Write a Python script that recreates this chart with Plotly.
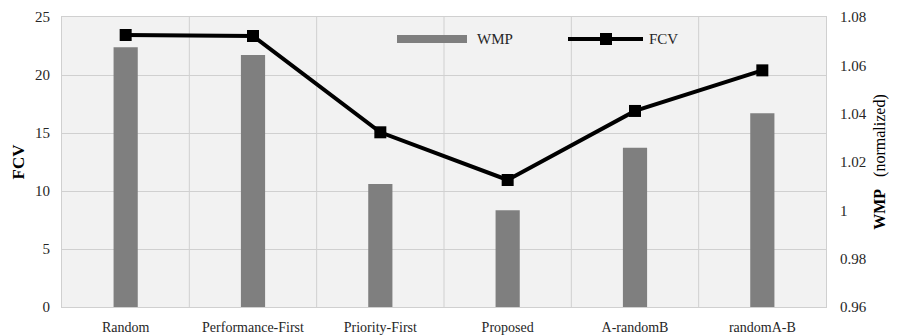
import plotly.graph_objects as go

categories = ["Random", "Performance-First", "Priority-First", "Proposed", "A-randomB", "randomA-B"]
wmp = [1.0675, 1.0643, 1.0109, 1.0, 1.0259, 1.0402]
fcv = [23.45, 23.36, 15.06, 10.95, 16.9, 20.4]
fcv_ticks = [0, 5, 10, 15, 20, 25]
wmp_ticks = [0.96, 0.98, 1.0, 1.02, 1.04, 1.06, 1.08]
wmp_tick_labels = ["0.96", "0.98", "1", "1.02", "1.04", "1.06", "1.08"]

font = "Liberation Serif"
grid = "#d0d0d0"
tick_col = "#262626"

fig = go.Figure()
fig.add_trace(go.Bar(x=categories, y=[v - 0.96 for v in wmp], base=0.96, yaxis="y2",
                     marker=dict(color="#7f7f7f", line=dict(width=0)), width=0.19, name="WMP",
                     showlegend=False))
fig.add_trace(go.Scatter(x=categories, y=fcv, mode="lines+markers", name="FCV",
                         line=dict(color="black", width=4),
                         marker=dict(symbol="square", size=12, color="black"), showlegend=False))

# page body has an 8px margin: figure occupies 8..902 x 8..335
fig.update_layout(
    width=894, height=327,
    margin=dict(l=54, r=76, t=9, b=28, autoexpand=False),
    paper_bgcolor="white", plot_bgcolor="#f2f2f2",
    font=dict(family=font, size=14, color=tick_col),
    xaxis=dict(showgrid=False, tickfont=dict(family=font, size=14, color=tick_col),
               ticks="outside", ticklen=7, tickcolor="rgba(0,0,0,0)",
               showline=True, linecolor=grid, linewidth=1, mirror=True,
               zeroline=False, automargin=False),
    yaxis=dict(range=[0, 25], tickvals=fcv_ticks, showgrid=True, gridcolor=grid, gridwidth=1,
               showline=True, linecolor=grid, linewidth=1, mirror=True,
               ticks="outside", ticklen=8, tickcolor="rgba(0,0,0,0)",
               zeroline=False, tickfont=dict(family=font, size=15, color=tick_col),
               automargin=False,
               title=dict(text="<b>FCV</b>", font=dict(family=font, size=17, color="black"),
                          standoff=6)),
    yaxis2=dict(range=[0.96, 1.08], tickvals=wmp_ticks, ticktext=wmp_tick_labels,
                overlaying="y", side="right", showgrid=False, zeroline=False,
                ticks="outside", ticklen=10, tickcolor="rgba(0,0,0,0)",
                tickfont=dict(family=font, size=15, color=tick_col), automargin=False,
                title=dict(text="<b>WMP</b>   (normalized)",
                           font=dict(family=font, size=16, color="black"), standoff=8)),
    showlegend=False,
)

# vertical grid lines at category boundaries
for i in range(1, len(categories)):
    fig.add_shape(type="line", xref="x", yref="paper", x0=i - 0.5, x1=i - 0.5, y0=0, y1=1,
                  line=dict(color=grid, width=1), layer="below")

# manual legend
W, H = 764, 290
fig.add_shape(type="rect", xref="paper", yref="paper", x0=(397 - 62) / W, x1=(467 - 62) / W,
              y0=(307 - 43) / H, y1=(307 - 35) / H, fillcolor="#7f7f7f", line=dict(width=0))
fig.add_annotation(xref="paper", yref="paper", x=(475 - 62) / W, y=(307 - 39) / H,
                   text="WMP", showarrow=False, xanchor="left", yanchor="middle",
                   font=dict(family=font, size=15, color=tick_col))
fig.add_shape(type="line", xref="paper", yref="paper", x0=(568 - 62) / W, x1=(643 - 62) / W,
              y0=(307 - 39) / H, y1=(307 - 39) / H, line=dict(color="black", width=4))
fig.add_shape(type="rect", xref="paper", yref="paper", x0=(600 - 62) / W, x1=(612 - 62) / W,
              y0=(307 - 45) / H, y1=(307 - 33) / H, fillcolor="black", line=dict(width=0))
fig.add_annotation(xref="paper", yref="paper", x=(647 - 62) / W, y=(307 - 39) / H,
                   text="FCV", showarrow=False, xanchor="left", yanchor="middle",
                   font=dict(family=font, size=15, color=tick_col))

fig.write_html("out.html")
